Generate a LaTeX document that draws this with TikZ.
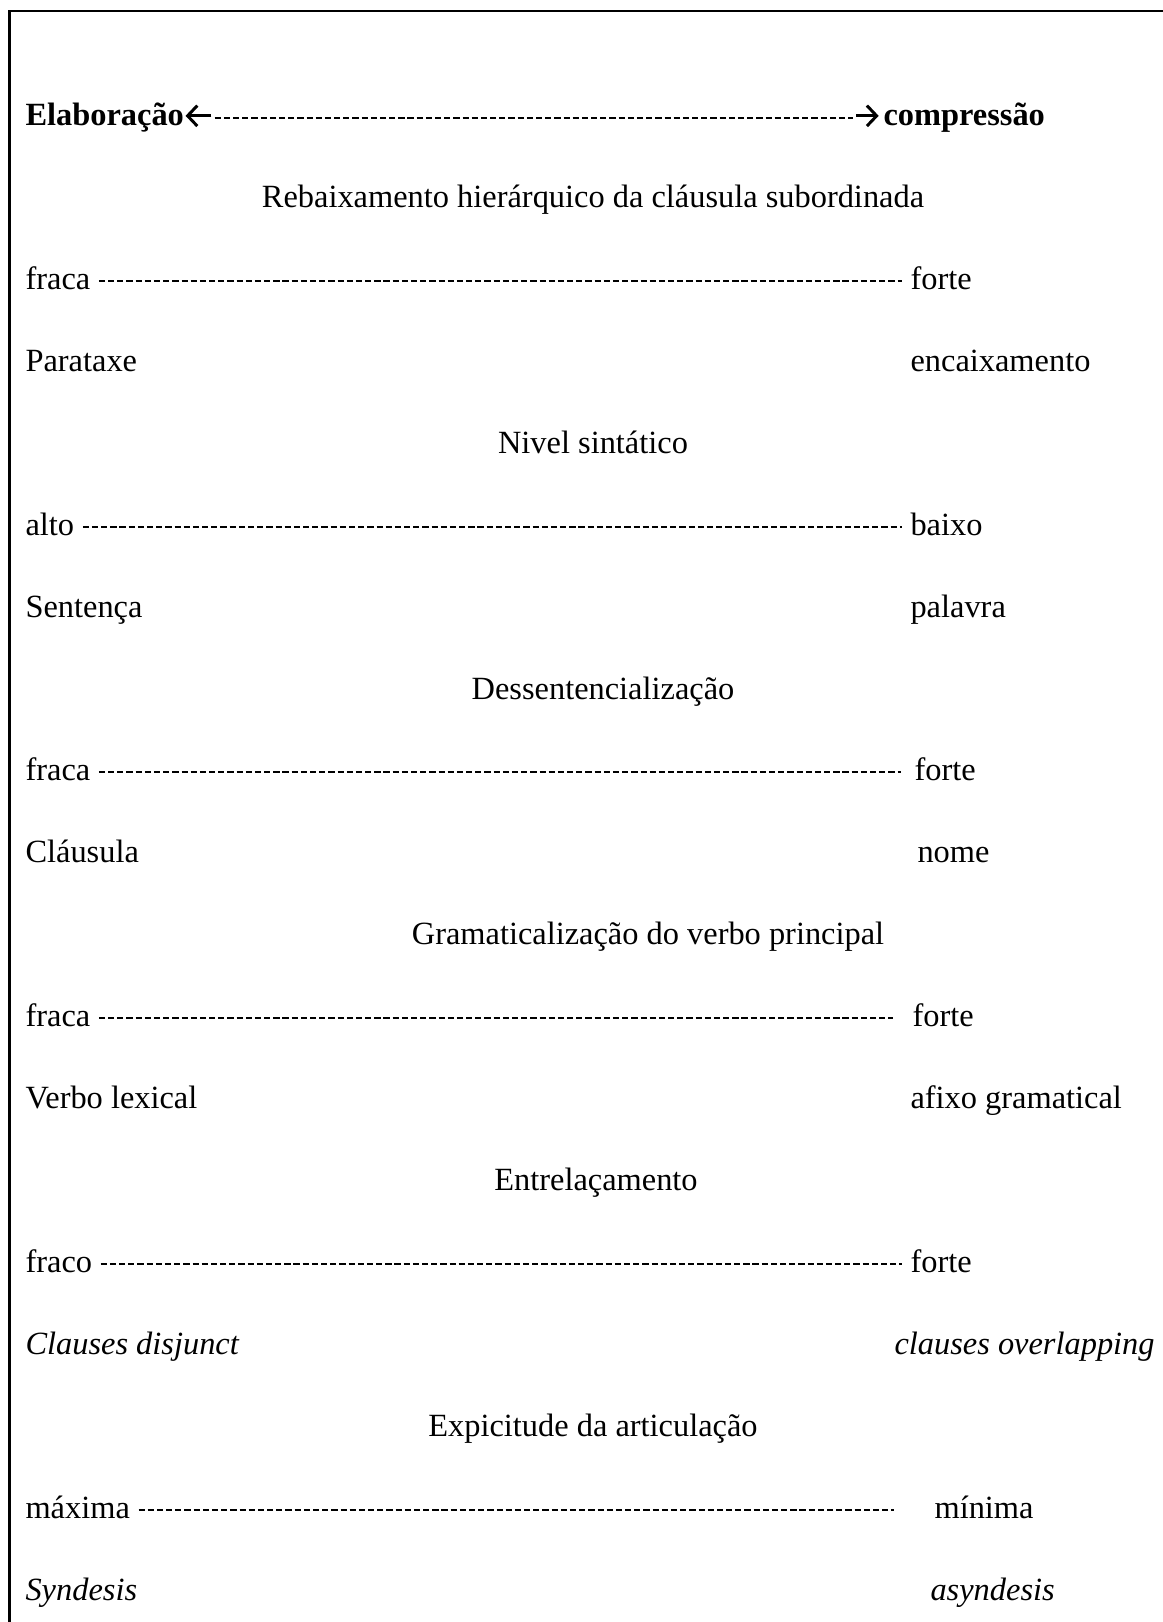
\documentclass[tikz,border=0pt]{standalone}
\usepackage{fontspec}
\setmainfont{Liberation Serif}
\usetikzlibrary{arrows.meta,positioning}
\tikzset{>=Straight Barb}
\tikzset{
  txt/.style={anchor=base west,inner sep=0pt,font=\fontsize{12pt}{14pt}\selectfont},
  head/.style={anchor=base,inner sep=0pt,font=\fontsize{12pt}{14pt}\selectfont},
  dashline/.style={line width=0.8pt,dash pattern=on 2.3pt off 1.1pt},
  arrowline/.style={line width=1.1pt,-{Straight Barb[length=3.6pt,width=7.6pt]}},
  frame/.style={line width=1.1pt}
}
% dashed scale from one pole to the other
\newcommand*{\scaleline}[3][0pt]
  {\draw[dashline] ([shift={(3pt,3pt)}]#2.base east) -- ([shift={(-3pt-#1,3pt)}]#3.base west)}

\begin{document}
\begin{tikzpicture}[x=0.37037pt,y=-0.37037pt]
\useasboundingbox (0,0) rectangle (1163,1622);

% Frame (left and top only)
\draw[frame] (9.5,1622) -- (9.5,11) -- (1163,11);

% Main axis
\node[txt,font=\fontsize{12pt}{14pt}\selectfont\bfseries] (elab) at (25,125) {Elaboração};
\node[txt,font=\fontsize{12pt}{14pt}\selectfont\bfseries] (comp) at (883,125) {compressão};
\draw[arrowline] ([shift={(10pt,3.4pt)}]elab.base east) -- ([shift={(0.4pt,3.4pt)}]elab.base east);
\draw[arrowline] ([shift={(-10pt,3.4pt)}]comp.base west) -- ([shift={(-1.6pt,3.4pt)}]comp.base west);
\draw[dashline] ([shift={(11.2pt,2.7pt)}]elab.base east) -- ([shift={(-11pt,2.7pt)}]comp.base west);

% Rebaixamento
\node[head] (rebaix) at (593,207) {Rebaixamento hierárquico da cláusula subordinada};
\node[txt] (fracaA) at (25,289) {fraca};
\node[txt] (forteA) at (910,289) {forte};
\scaleline{fracaA}{forteA};
\node[txt] (parat) at (25,371) {Parataxe};
\node[txt] (encaix) at (910,371) {encaixamento};

% Nivel sintatico
\node[head] (nivel) at (593,453) {Nivel sintático};
\node[txt] (alto) at (25,535) {alto};
\node[txt] (baixo) at (910,535) {baixo};
\scaleline{alto}{baixo};
\node[txt] (sent) at (25,617) {Sentença};
\node[txt] (palavra) at (910,617) {palavra};

% Dessentencializacao
\node[head] (dessent) at (603,699) {Dessentencialização};
\node[txt] (fracaB) at (25,780.5) {fraca};
\node[txt] (forteB) at (914,780.5) {forte};
\scaleline[2pt]{fracaB}{forteB};
\node[txt] (claus) at (25,862) {Cláusula};
\node[txt] (nome) at (917,862) {nome};

% Gramaticalizacao
\node[head] (gramat) at (648,944) {Gramaticalização do verbo principal};
\node[txt] (fracaC) at (25,1026) {fraca};
\node[txt] (forteC) at (912,1026) {forte};
\scaleline[4pt]{fracaC}{forteC};
\node[txt] (verbo) at (25,1108) {Verbo lexical};
\node[txt] (afixo) at (910,1108) {afixo gramatical};

% Entrelacamento
\node[head] (entrel) at (596,1190) {Entrelaçamento};
\node[txt] (fraco) at (25,1272) {fraco};
\node[txt] (forteD) at (910,1272) {forte};
\scaleline{fraco}{forteD};
\node[txt] (disj) at (25,1354) {\itshape Clauses disjunct};
\node[txt] (overl) at (894,1354) {\itshape clauses overlapping};

% Explicitude
\node[head] (explic) at (593,1436) {Expicitude da articulação};
\node[txt] (maxima) at (25,1518) {máxima};
\node[txt] (minima) at (934,1518) {mínima};
\scaleline[12pt]{maxima}{minima};
\node[txt] (synd) at (25,1600) {\itshape Syndesis};
\node[txt] (asynd) at (930,1600) {\itshape asyndesis};
\end{tikzpicture}
\end{document}
